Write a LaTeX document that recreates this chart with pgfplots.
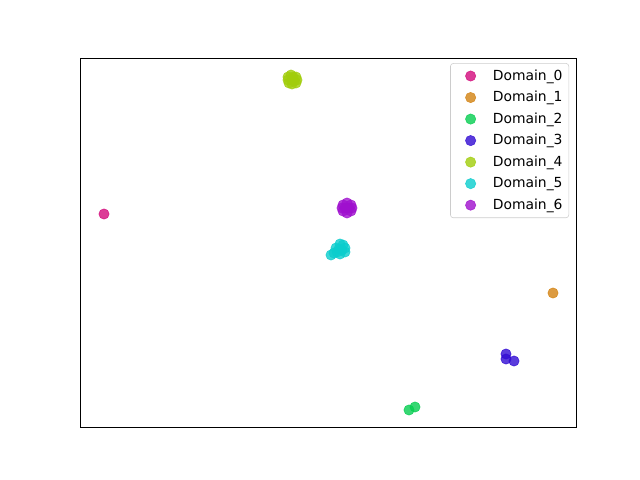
\documentclass[border=0pt]{standalone}
\usepackage{pgfplots}
\pgfplotsset{compat=1.18}
\usepackage{fontspec}
\setmainfont{DejaVu Sans}
\definecolor{c0}{RGB}{211,11,124}
\definecolor{c1}{RGB}{211,130,17}
\definecolor{c2}{RGB}{5,205,80}
\definecolor{c3}{RGB}{49,11,211}
\definecolor{c4}{RGB}{161,205,11}
\definecolor{c5}{RGB}{11,205,205}
\definecolor{c6}{RGB}{159,16,206}
\begin{document}
\begin{tikzpicture}
\begin{axis}[
  scale only axis,
  width=357.12pt, height=265.68pt,
  xmin=80, xmax=576, ymin=53, ymax=422,
  xtick=\empty, ytick=\empty,
  axis line style={line width=0.6pt},
  clip=false,
  legend cell align=left,
  legend style={at={(rel axis cs:0.986,0.986)}, anchor=north east,
    draw=black!20, rounded corners=2pt, font=\fontsize{10}{12}\selectfont,
    row sep=2.4pt, inner xsep=2.5pt, inner ysep=2.5pt},
  legend image code/.code={\path[draw=none,fill=none] (0pt,0pt) -- (26pt,0pt); \draw[#1] plot coordinates {(12pt,0pt)};},
  every axis plot/.append style={only marks, mark=*, mark size=3.7pt, fill opacity=0.8, draw opacity=0.8},
]
\addplot[color=c0] coordinates {(104,266)};
\addlegendentry{Domain\_0}
\addplot[color=c1] coordinates {(553,187)};
\addlegendentry{Domain\_1}
\addplot[color=c2] coordinates {(409,70) (415,73)};
\addlegendentry{Domain\_2}
\addplot[color=c3] coordinates {(506,126) (506,121) (514,119)};
\addlegendentry{Domain\_3}
\addplot[color=c4] coordinates {(291,405) (288,400) (297,400) (292,396) (293,403) (289,397) (296,397) (292,400) (296,403) (288,403) (294,399)};
\addlegendentry{Domain\_4}
\addplot[color=c5] coordinates {(331,225) (334,227) (340,236) (336,232) (345,232) (340,226) (337,228) (343,235) (345,228) (339,231) (342,230)};
\addlegendentry{Domain\_5}
\addplot[color=c6] coordinates {(342,272) (352,272) (347,277) (347,267) (343,275) (351,275) (343,269) (351,269) (347,272) (345,272) (349,272)};
\addlegendentry{Domain\_6}
\end{axis}
\path (current axis.south west) ++(-57.6pt,-38.16pt) coordinate (bl);
\path (current axis.north east) ++(46.08pt,41.76pt) coordinate (tr);
\useasboundingbox (bl) rectangle (tr);
\end{tikzpicture}
\end{document}
